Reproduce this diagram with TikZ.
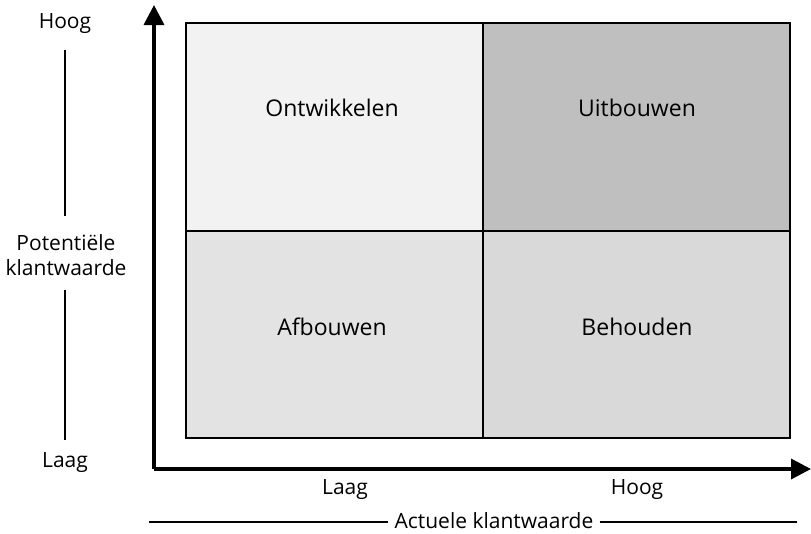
\documentclass[tikz,border=0pt]{standalone}
\usepackage{fontspec}
\setmainfont{Open Sans}
\usetikzlibrary{arrows.meta}
\begin{document}
\begin{tikzpicture}[x=1pt,y=-1pt,
  cell/.style={draw=black,line width=2.3pt},
  axis/.style={line width=3.5pt,-{Triangle[length=20pt,width=20pt]}},
  guide/.style={line width=1.6pt},
  quad/.style={font=\fontsize{23}{27}\selectfont},
  lbl/.style={font=\fontsize{21}{25.5}\selectfont,align=center,inner sep=0pt}]
\useasboundingbox (0,0) rectangle (811,533);
% quadrants
\filldraw[cell,fill=black!5]  (186,23)  rectangle (483,231);
\filldraw[cell,fill=black!25] (483,23)  rectangle (790,231);
\filldraw[cell,fill=black!11] (186,231) rectangle (483,438);
\filldraw[cell,fill=black!15] (483,231) rectangle (790,438);
\node[quad] (ont) at (332,108) {Ontwikkelen};
\node[quad] (uit) at (637,108) {Uitbouwen};
\node[quad] (afb) at (332,327) {Afbouwen};
\node[quad] (beh) at (637,327) {Behouden};
% axes
\coordinate (origin) at (154,469);
\coordinate (ytip) at (154,5);
\coordinate (xtip) at (811,469);
\draw[axis] (origin) -- (ytip);
\draw[axis] (origin) -- (xtip);
% vertical axis labels
\node[lbl] (yhigh) at (65,24) {Hoog};
\node[lbl] (yname) at (66,255) {Potentiële\\klantwaarde};
\node[lbl] (ylow) at (65,463) {Laag};
\coordinate (yg1a) at (65,50);  \coordinate (yg1b) at (65,216);
\coordinate (yg2a) at (65,290); \coordinate (yg2b) at (65,440);
\draw[guide] (yg1a) -- (yg1b);
\draw[guide] (yg2a) -- (yg2b);
% horizontal axis labels
\node[lbl] (xlow) at (345,490) {Laag};
\node[lbl] (xhigh) at (637,490) {Hoog};
\node[lbl] (xname) at (494,521) {Actuele klantwaarde};
\coordinate (xg1) at (149,522);
\coordinate (xg2) at (797,522);
\draw[guide] (xg1) -- ([xshift=-6pt]xname.west |- xg1);
\draw[guide] ([xshift=6pt]xname.east |- xg2) -- (xg2);
\end{tikzpicture}
\end{document}
